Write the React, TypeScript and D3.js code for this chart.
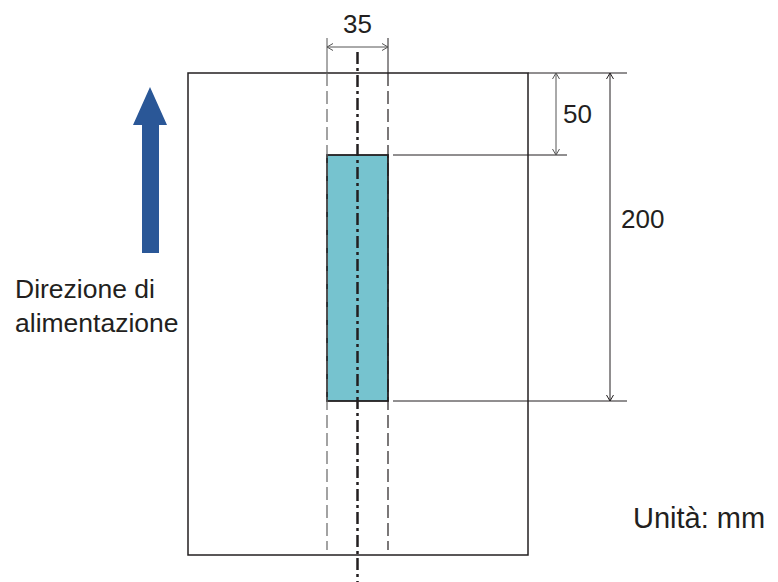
import React from "react";
import * as d3 from "d3";

const dimValues = [35, 50, 200];
const dimLabels = ["35", "50", "200"];
const feedLabel = ["Direzione di", "alimentazione"];
const unitLabel = "Unità: mm";

const FONT = "'Liberation Sans', Arial, sans-serif";
const INK = "#231f20";

function openArrow(x: number, y: number, dir: "up" | "down" | "left" | "right", size = 6, half = 3.5) {
  if (dir === "up") return `M${x - half},${y + size}L${x},${y}L${x + half},${y + size}`;
  if (dir === "down") return `M${x - half},${y - size}L${x},${y}L${x + half},${y - size}`;
  if (dir === "left") return `M${x + size},${y - half}L${x},${y}L${x + size},${y + half}`;
  return `M${x - size},${y - half}L${x},${y}L${x - size},${y + half}`;
}

export default function App() {
  const y = d3.scaleLinear().domain([0, dimValues[2]]).range([73, 401]);
  const x = d3.scaleLinear().domain([0, dimValues[0]]).range([327, 388]);
  const pageLeft = 188, pageRight = 528, pageTop = y(0), pageBottom = 555;
  const stripTop = y(dimValues[1]);
  const stripBottom = y(dimValues[2]);
  const xl = x(0), xr = x(dimValues[0]);
  const xc = (xl + xr) / 2;
  const dimY35 = 47;
  const x50 = 556, x200 = 610;

  return (
    <svg width={778} height={582} style={{ position: "absolute", left: 0, top: 0 }}>
      <rect width={778} height={582} fill="#fff" />
      <rect x={pageLeft} y={pageTop} width={pageRight - pageLeft} height={pageBottom - pageTop} fill="none" stroke={INK} strokeWidth={1.5} />
      <rect x={xl} y={stripTop} width={xr - xl} height={stripBottom - stripTop} fill="#76c3cf" stroke={INK} strokeWidth={1.8} />
      <line x1={xl} x2={xl} y1={pageTop} y2={550} stroke="#666" strokeWidth={1.2} strokeDasharray="13,5" />
      <line x1={xr} x2={xr} y1={pageTop} y2={550} stroke={INK} strokeWidth={1.2} strokeDasharray="13,5" />
      <line x1={xl} x2={xl} y1={38} y2={pageTop} stroke="#555" strokeWidth={1} />
      <line x1={xr} x2={xr} y1={38} y2={pageTop} stroke={INK} strokeWidth={1} />
      <line x1={xc} x2={xc} y1={52} y2={582} stroke={INK} strokeWidth={2.5} strokeDasharray="12,4,3,4" />
      <line x1={xl} x2={xr} y1={dimY35} y2={dimY35} stroke="#555" strokeWidth={1} />
      <path d={openArrow(xl, dimY35, "left")} fill="none" stroke="#555" strokeWidth={1} />
      <path d={openArrow(xr, dimY35, "right")} fill="none" stroke="#555" strokeWidth={1} />
      <text x={xc} y={33} textAnchor="middle" fontFamily={FONT} fontSize={26} fill={INK}>{dimLabels[0]}</text>
      <line x1={pageRight} x2={627} y1={pageTop} y2={pageTop} stroke={INK} strokeWidth={1} />
      <line x1={393} x2={567} y1={stripTop} y2={stripTop} stroke={INK} strokeWidth={1} />
      <line x1={393} x2={627} y1={stripBottom} y2={stripBottom} stroke={INK} strokeWidth={1} />
      <line x1={x50} x2={x50} y1={pageTop} y2={stripTop} stroke="#555" strokeWidth={1} />
      <path d={openArrow(x50, pageTop, "up")} fill="none" stroke="#555" strokeWidth={1} />
      <path d={openArrow(x50, stripTop, "down")} fill="none" stroke="#555" strokeWidth={1} />
      <text x={563} y={123} fontFamily={FONT} fontSize={26} fill={INK}>{dimLabels[1]}</text>
      <line x1={x200} x2={x200} y1={pageTop} y2={stripBottom} stroke={INK} strokeWidth={1} />
      <path d={openArrow(x200, pageTop, "up")} fill="none" stroke={INK} strokeWidth={1} />
      <path d={openArrow(x200, stripBottom, "down")} fill="none" stroke={INK} strokeWidth={1} />
      <text x={621} y={228} fontFamily={FONT} fontSize={26} fill={INK}>{dimLabels[2]}</text>
      <path d="M142,253L142,125L133,125L150,87L167,125L159,125L159,253Z" fill="#2a5797" />
      <text fontFamily={FONT} fontSize={26.5} fill={INK}>
        <tspan x={15} y={298}>{feedLabel[0]}</tspan>
        <tspan x={15} y={332}>{feedLabel[1]}</tspan>
      </text>
      <text x={633} y={528} fontFamily={FONT} fontSize={29} fill={INK}>{unitLabel}</text>
    </svg>
  );
}
